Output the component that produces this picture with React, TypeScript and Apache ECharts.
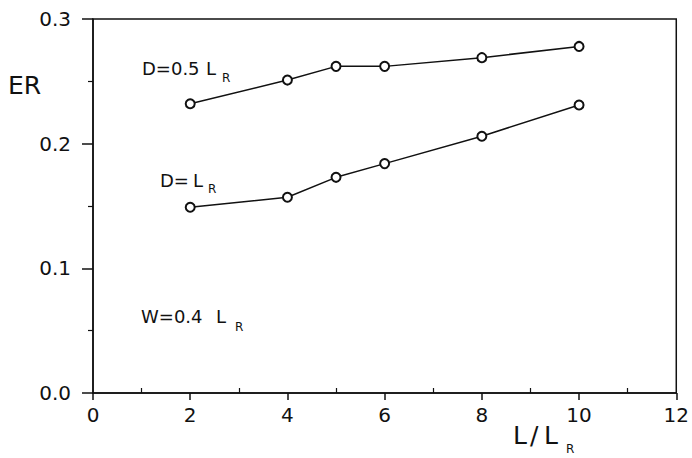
import React, { useEffect, useRef } from "react";
import * as echarts from "echarts";

const xValues = [2, 4, 5, 6, 8, 10];
const erHalfLR = [0.232, 0.251, 0.262, 0.262, 0.269, 0.278];
const erOneLR = [0.149, 0.157, 0.173, 0.184, 0.206, 0.231];
const xTicks = [0, 2, 4, 6, 8, 10, 12];
const yTicks = [0.0, 0.1, 0.2, 0.3];

const FONT = "DejaVu Sans";
const INK = "#111";

export default function App() {
  const ref = useRef<HTMLDivElement>(null);
  useEffect(() => {
    if (!ref.current) return;
    const chart = echarts.init(ref.current, null, { renderer: "svg" });
    const txt = (text: string, x: number, y: number, size: number) => ({
      type: "text",
      x,
      y,
      style: { text, font: `${size}px "${FONT}"`, fill: INK, verticalAlign: "middle" },
    });
    chart.setOption({
      animation: false,
      backgroundColor: "#fff",
      grid: {
        left: 93,
        right: 14,
        top: 19,
        bottom: 65,
        show: true,
        borderColor: INK,
        borderWidth: 1.5,
        backgroundColor: "transparent",
      },
      xAxis: [
        {
          type: "value",
          min: xTicks[0],
          max: xTicks[xTicks.length - 1],
          interval: 2,
          axisLine: { show: true, onZero: false, lineStyle: { color: INK, width: 1.5 } },
          axisTick: { show: true, length: 7, lineStyle: { color: INK, width: 1.5 } },
          minorTick: { show: false },
          splitLine: { show: false },
          axisLabel: { color: INK, fontFamily: FONT, fontSize: 20, margin: 12 },
        },
        {
          type: "value",
          position: "bottom",
          min: xTicks[0],
          max: xTicks[xTicks.length - 1],
          interval: 2,
          axisLine: { show: false },
          axisTick: { show: false, inside: true },
          minorTick: { show: true, splitNumber: 2, length: 5, lineStyle: { color: INK, width: 1.2 } },
          splitLine: { show: false },
          axisLabel: { show: false },
        },
      ],
      yAxis: {
        type: "value",
        min: yTicks[0],
        max: yTicks[yTicks.length - 1],
        interval: 0.1,
        axisLine: { show: true, onZero: false, lineStyle: { color: INK, width: 1.5 } },
        axisTick: { show: true, length: 11, lineStyle: { color: INK, width: 1.5 } },
        minorTick: { show: true, splitNumber: 2, length: 5, lineStyle: { color: INK, width: 1.2 } },
        splitLine: { show: false },
        axisLabel: {
          color: INK,
          fontFamily: FONT,
          fontSize: 20,
          margin: 22,
          formatter: (v: number) => v.toFixed(1),
        },
      },
      series: [
        {
          type: "line",
          name: "D=0.5 L_R",
          xAxisIndex: 0,
          data: xValues.map((x, i) => [x, erHalfLR[i]]),
          symbol: "emptyCircle",
          symbolSize: 9,
          lineStyle: { color: INK, width: 1.5 },
          itemStyle: { color: INK, borderWidth: 1.5, borderColor: INK },
        },
        {
          type: "line",
          name: "D=L_R",
          xAxisIndex: 0,
          data: xValues.map((x, i) => [x, erOneLR[i]]),
          symbol: "emptyCircle",
          symbolSize: 9,
          lineStyle: { color: INK, width: 1.5 },
          itemStyle: { color: INK, borderWidth: 1.5, borderColor: INK },
        },
      ],
      graphic: [
        txt("ER", 8, 85, 25),
        txt("D=0.5", 142, 68, 18),
        txt("L", 206, 68, 18),
        txt("R", 222, 78, 12),
        txt("D=", 160, 180, 18),
        txt("L", 193, 180, 18),
        txt("R", 208, 189, 12),
        txt("W=0.4", 141, 316, 18),
        txt("L", 216, 316, 18),
        txt("R", 235, 327, 12),
        txt("L", 513, 435, 25),
        txt("/", 530, 435, 25),
        txt("L", 544, 435, 25),
        txt("R", 566, 449, 12),
      ],
    });
    return () => chart.dispose();
  }, []);
  return (
    <div
      ref={ref}
      style={{ position: "fixed", left: 0, top: 0, width: 692, height: 458 }}
    />
  );
}
